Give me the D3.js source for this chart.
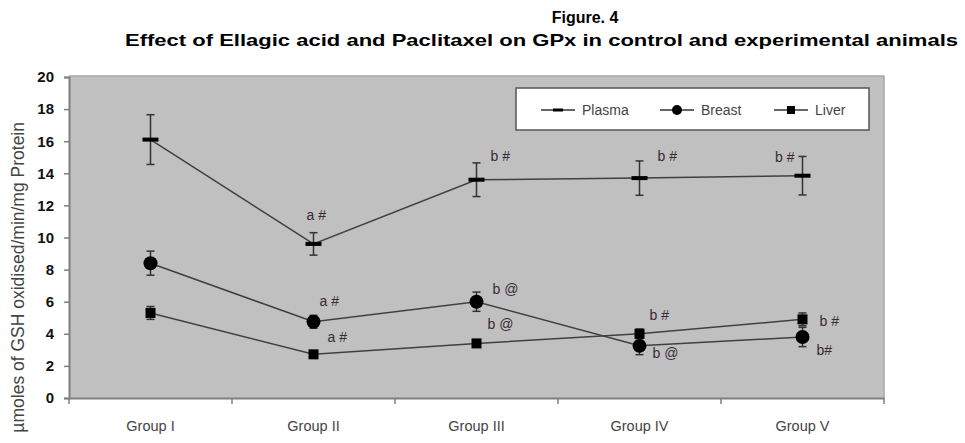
<!DOCTYPE html>
<html><head><meta charset="utf-8">
<script src="https://cdn.jsdelivr.net/npm/d3@7"></script>
<style>body{margin:0;background:#fff;}svg{display:block;font-family:"Liberation Sans",Arial,sans-serif;}</style>
</head><body>
<svg id="chart" width="965" height="443"></svg>
<script>
const categories = ["Group I","Group II","Group III","Group IV","Group V"];
const seriesNames = ["Plasma","Breast","Liver"];
const plasma = [16.1, 9.6, 13.6, 13.7, 13.85];
const plasmaErr = [1.55, 0.7, 1.05, 1.07, 1.2];
const breast = [8.4, 4.75, 6.0, 3.25, 3.8];
const breastErr = [0.75, 0.4, 0.6, 0.55, 0.6];
const liver = [5.3, 2.72, 3.4, 4.0, 4.9];
const liverErr = [0.4, 0.15, 0.15, 0.3, 0.4];
const yTicks = [0,2,4,6,8,10,12,14,16,18,20];
// annotation text per series & group (empty = none)
const plasmaNotes = ["", "a #", "b #", "b #", "b #"];
const breastNotes = ["", "a #", "b @", "b @", "b#"];
const liverNotes  = ["", "a #", "b @", "b #", "b #"];
const title1 = "Figure. 4";
const title2 = "Effect of Ellagic acid and Paclitaxel on GPx in control and experimental animals";
const yLabel = "µmoles of GSH oxidised/min/mg Protein";

// layout (offsets for annotations, px) – kept separate from data
const noteOffsets = {
  Plasma: [null,[-7,-24,"start"],[14,-19,"start"],[18,-17,"start"],[-8,-14,"end"]],
  Breast: [null,[6,-16,"start"],[16,-8,"start"],[13,12,"start"],[14,18,"start"]],
  Liver:  [null,[14,-12,"start"],[11,-14,"start"],[10,-14,"start"],[17,7,"start"]]
};

const svg = d3.select("#chart");
const L = 69, R = 884, T = 77, B = 398;
const x = d3.scaleBand().domain(categories).range([L, R]);
const y = d3.scaleLinear().domain([0, 20]).range([B, T]);

// plot background
svg.append("rect").attr("x", L).attr("y", T-1).attr("width", R-L).attr("height", B-T+1)
  .attr("fill", "#c0c0c0");
svg.append("path").attr("d", `M${L},${T-1}H${R}V${B}`).attr("fill","none").attr("stroke","#a6a6a6").attr("stroke-width",1.5);

// y axis
const yAxis = svg.append("g").attr("transform", `translate(${L},0)`)
  .call(d3.axisLeft(y).tickValues(yTicks).tickSize(5).tickPadding(10).tickFormat(d3.format("d")));
yAxis.select(".domain").attr("stroke", "#7f7f7f").attr("stroke-width", 2);
yAxis.selectAll(".tick line").attr("stroke", "#7f7f7f").attr("stroke-width", 1.5);
yAxis.selectAll(".tick text").attr("font-size", 15).attr("font-weight", "bold").attr("fill", "#111");

// x axis
const xAxis = svg.append("g").attr("transform", `translate(0,${B})`)
  .call(d3.axisBottom(x).tickSize(0).tickPadding(23));
xAxis.select(".domain").attr("stroke", "#7f7f7f").attr("stroke-width", 2);
xAxis.selectAll(".tick text").attr("font-size", 14.5).attr("fill", "#444");
// tick marks at band boundaries
const bounds = categories.map(c => x(c)).concat([R]);
xAxis.selectAll(".bnd").data(bounds).join("line")
  .attr("x1", d => d).attr("x2", d => d).attr("y1", 0).attr("y2", 6)
  .attr("stroke", "#7f7f7f").attr("stroke-width", 1.5);

const cx = c => x(c) + x.bandwidth()/2;
const series = [
  {name:"Plasma", vals:plasma, err:plasmaErr, notes:plasmaNotes},
  {name:"Breast", vals:breast, err:breastErr, notes:breastNotes},
  {name:"Liver", vals:liver, err:liverErr, notes:liverNotes}
];
const line = d3.line().x(d => cx(d.c)).y(d => y(d.v));

series.forEach(s => {
  const pts = categories.map((c,i) => ({c, v:s.vals[i], e:s.err[i], note:s.notes[i], i}));
  const g = svg.append("g");
  g.append("path").datum(pts).attr("d", line).attr("fill","none").attr("stroke","#404040").attr("stroke-width",1.5);
  // error bars
  const eb = g.selectAll(".eb").data(pts).join("g");
  eb.append("line").attr("x1", d=>cx(d.c)).attr("x2", d=>cx(d.c))
    .attr("y1", d=>y(d.v+d.e)).attr("y2", d=>y(d.v-d.e)).attr("stroke","#333").attr("stroke-width",1.5);
  [1,-1].forEach(sg => eb.append("line").attr("x1", d=>cx(d.c)-4).attr("x2", d=>cx(d.c)+4)
    .attr("y1", d=>y(d.v+sg*d.e)).attr("y2", d=>y(d.v+sg*d.e)).attr("stroke","#333").attr("stroke-width",1.5));
  // markers
  if (s.name === "Plasma") {
    g.selectAll(".m").data(pts).join("rect").attr("x", d=>cx(d.c)-8).attr("y", d=>y(d.v)-2)
      .attr("width",16).attr("height",4).attr("fill","#000");
  } else if (s.name === "Breast") {
    g.selectAll(".m").data(pts).join("circle").attr("cx", d=>cx(d.c)).attr("cy", d=>y(d.v))
      .attr("r", 7).attr("fill","#000");
  } else {
    g.selectAll(".m").data(pts).join("rect").attr("x", d=>cx(d.c)-5).attr("y", d=>y(d.v)-5)
      .attr("width",10).attr("height",10).attr("fill","#000");
  }
  // annotations
  g.selectAll(".n").data(pts.filter(d=>d.note)).join("text")
    .attr("x", d=>cx(d.c)+noteOffsets[s.name][d.i][0])
    .attr("y", d=>y(d.v)+noteOffsets[s.name][d.i][1])
    .attr("text-anchor", d=>noteOffsets[s.name][d.i][2])
    .attr("font-size", 14).attr("fill", "#3a2a35").text(d=>d.note);
});

// legend
const lg = svg.append("g");
lg.append("rect").attr("x",516).attr("y",88).attr("width",353).attr("height",42)
  .attr("fill","#fff").attr("stroke","#555").attr("stroke-width",1.5);
const legX = [541, 660, 774];
seriesNames.forEach((n,i) => {
  const x0 = legX[i], yy = 110;
  lg.append("line").attr("x1",x0).attr("x2",x0+34).attr("y1",yy).attr("y2",yy).attr("stroke","#333").attr("stroke-width",1.5);
  if (n==="Plasma") lg.append("rect").attr("x",x0+12).attr("y",yy-1.5).attr("width",10).attr("height",3).attr("fill","#000");
  else if (n==="Breast") lg.append("circle").attr("cx",x0+17).attr("cy",yy).attr("r",5).attr("fill","#000");
  else lg.append("rect").attr("x",x0+13).attr("y",yy-4).attr("width",8).attr("height",8).attr("fill","#000");
  lg.append("text").attr("x", x0+41).attr("y", yy+5).attr("font-size",14).attr("fill","#444").text(n);
});

// titles
svg.append("text").attr("x",585).attr("y",23).attr("text-anchor","middle")
  .attr("font-size",16).attr("font-weight","bold").attr("fill","#000").text(title1);
svg.append("text").attr("x",125).attr("y",46)
  .attr("font-size",16.5).attr("font-weight","bold").attr("fill","#000")
  .attr("textLength",833).attr("lengthAdjust","spacingAndGlyphs").text(title2);

// y label
svg.append("text").attr("transform","translate(24,122) rotate(-90)")
  .attr("text-anchor","end").attr("font-size",17.5).attr("fill","#444").text(yLabel);
</script>
</body></html>
